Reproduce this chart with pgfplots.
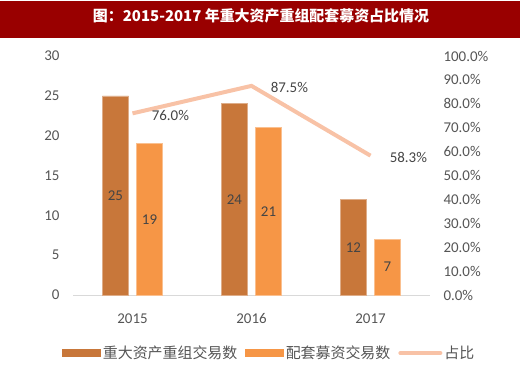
\documentclass[border=0pt]{standalone}
\usepackage{pgfplots}
\usepackage{pgfplotstable}
\pgfplotsset{compat=1.18}
\usepackage{fontspec}
\setmainfont{Carlito}
\newfontfamily\cjk{Noto Sans CJK SC}
\definecolor{darkbar}{HTML}{C8773A}
\definecolor{lightbar}{HTML}{F69646}
\definecolor{linec}{HTML}{F8C2A6}
\definecolor{txt}{HTML}{555555}
\definecolor{banner}{HTML}{990000}
\pgfplotstableread{
x a b r
0 25 19 76.0
1 24 21 87.5
2 12 7 58.3
}\datatab
\begin{document}
\begin{tikzpicture}[x=1bp,y=1bp]
\useasboundingbox (0,0) rectangle (520,366);
\fill[banner] (0,328) rectangle (520,365);
\node[white, font=\cjk\bfseries\fontsize{15}{17}\selectfont] at (261,350) {图：2015-2017 年重大资产重组配套募资占比情况};
\begin{axis}[
  at={(73bp,71bp)}, anchor=south west,
  scale only axis, width=357bp, height=239bp,
  xmin=-0.5, xmax=2.5, ymin=0, ymax=30,
  axis x line*=bottom, axis y line*=left,
  y axis line style={draw=none},
  x axis line style={draw=black!15, line width=1bp, -},
  major tick length=0pt,
  xtick={0,1,2}, xticklabels={2015,2016,2017},
  ytick={0,5,...,30},
  /pgf/number format/assume math mode=true,
  tick label style={text=txt, font=\fontsize{15}{17}\selectfont},
  yticklabel style={xshift=-10bp},
  xticklabel style={yshift=-15bp},
  clip=false,
]
\addplot[ybar, bar width=0.22, bar shift=-0.143, fill=darkbar, draw=darkbar!60!white, line width=0.6bp] table[x=x,y=a]{\datatab};
\addplot[ybar, bar width=0.22, bar shift=0.143, fill=lightbar, draw=lightbar!60!white, line width=0.6bp] table[x=x,y=b]{\datatab};
\addplot[draw=none, mark=none, point meta=explicit, nodes near coords,
  nodes near coords style={anchor=center, text=txt!80!black, font=\fontsize{15}{17}\selectfont, /pgf/number format/assume math mode=true}]
  table[x expr=\thisrow{x}-0.143, y expr=\thisrow{a}/2, meta=a]{\datatab};
\addplot[draw=none, mark=none, point meta=explicit, nodes near coords,
  nodes near coords style={anchor=center, text=txt!80!black, font=\fontsize{15}{17}\selectfont, /pgf/number format/assume math mode=true}]
  table[x expr=\thisrow{x}+0.143, y expr=\thisrow{b}/2, meta=b]{\datatab};
\end{axis}
\begin{axis}[
  at={(73bp,71bp)}, anchor=south west,
  scale only axis, width=357bp, height=239bp,
  xmin=-0.5, xmax=2.5, ymin=0, ymax=100,
  axis x line=none, axis y line*=right,
  y axis line style={draw=none},
  major tick length=0pt,
  ytick={0,10,...,100},
  yticklabel={\pgfmathprintnumber[fixed,fixed zerofill,precision=1,assume math mode=true]{\tick}\%},
  tick label style={text=txt, font=\fontsize{15}{17}\selectfont},
  yticklabel style={xshift=10bp},
  clip=false,
  legend style={at={(0.55,-0.243)}, anchor=center, draw=none, fill=none,
    font=\cjk\fontsize{15}{17}\selectfont, text=txt, legend columns=3,
    /tikz/every even column/.append style={column sep=6bp}, inner sep=0pt},
  legend cell align=left,
]
\addlegendimage{legend image code/.code={\fill[darkbar] (0bp,-3.5bp) rectangle (38bp,3.5bp);}}
\addlegendentry{重大资产重组交易数}
\addlegendimage{legend image code/.code={\fill[lightbar] (0bp,-3.5bp) rectangle (38bp,3.5bp);}}
\addlegendentry{配套募资交易数}
\addplot[linec, line width=4bp, mark=none, point meta=explicit, nodes near coords={\pgfmathprintnumber[fixed,fixed zerofill,precision=1,assume math mode=true]{\pgfplotspointmeta}\%},
  nodes near coords style={anchor=west, xshift=14bp, yshift=-2bp, text=txt!80!black, font=\fontsize{15}{17}\selectfont},
  legend image code/.code={\draw[linec, line width=4bp, line cap=round] (0bp,0bp) -- (40bp,0bp);}]
  table[x=x, y=r, meta=r]{\datatab};
\addlegendentry{占比}
\end{axis}
\end{tikzpicture}
\end{document}
